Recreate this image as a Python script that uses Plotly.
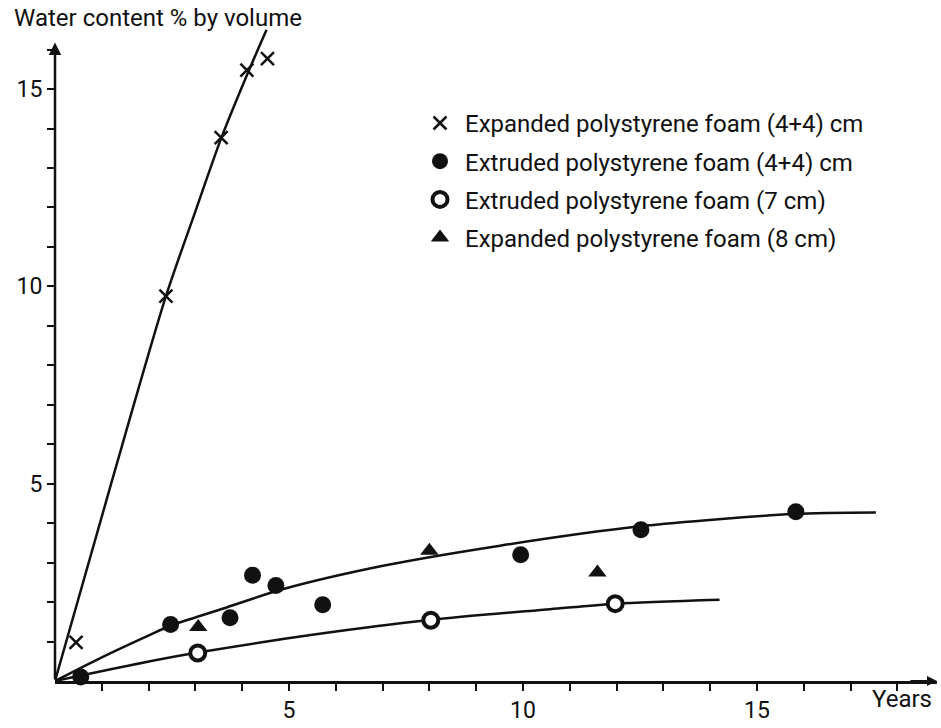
import plotly.graph_objects as go

# ---- data ----
exp44_x = [0.45, 2.37, 3.55, 4.10, 4.54]
exp44_y = [0.98, 9.75, 13.77, 15.48, 15.77]

ext44_x = [0.55, 2.47, 3.74, 4.22, 4.72, 5.72, 9.95, 12.52, 15.83]
ext44_y = [0.10, 1.43, 1.60, 2.68, 2.42, 1.93, 3.20, 3.83, 4.29]

ext7_x = [3.05, 8.03, 11.97]
ext7_y = [0.71, 1.54, 1.96]

exp8_x = [3.06, 8.00, 11.59]
exp8_y = [1.37, 3.30, 2.75]

# hand-drawn fitted curves
fit_exp44_x = [0, 1.2, 2.37, 3.0, 3.55, 4.1, 4.52]
fit_exp44_y = [0, 5.0, 9.75, 11.9, 13.75, 15.35, 16.5]

fit_ext44_x = [0, 1.0, 2.03, 2.47, 3.5, 4.88, 7.01, 9.51, 12.5, 15.77, 17.54]
fit_ext44_y = [0, 0.6, 1.17, 1.40, 1.80, 2.33, 2.92, 3.43, 3.92, 4.23, 4.27]

fit_ext7_x = [0, 2.03, 3.05, 5.5, 8.03, 10.58, 11.97, 14.2]
fit_ext7_y = [0, 0.50, 0.72, 1.17, 1.55, 1.82, 1.96, 2.06]

names = [
    "Expanded polystyrene foam (4+4) cm",
    "Extruded polystyrene foam (4+4) cm",
    "Extruded polystyrene foam (7 cm)",
    "Expanded polystyrene foam (8 cm)",
]

x_ticks = list(range(1, 19))
x_labels = {5: "5", 10: "10", 15: "15"}
y_ticks = list(range(1, 17))
y_labels = {5: "5", 10: "10", 15: "15"}
y_axis_top = 16.18

FONT = "Roboto, Liberation Sans Narrow, sans-serif"
INK = "#111111"

fig = go.Figure()

# fitted curves
for fx, fy in [(fit_exp44_x, fit_exp44_y), (fit_ext44_x, fit_ext44_y), (fit_ext7_x, fit_ext7_y)]:
    fig.add_trace(go.Scatter(x=fx, y=fy, mode="lines", line=dict(color=INK, width=2.5, shape="spline", smoothing=0.8),
                             showlegend=False, hoverinfo="skip"))

# measured points
fig.add_trace(go.Scatter(x=exp44_x, y=exp44_y, mode="markers", name=names[0], legendgroup="a",
                         marker=dict(symbol="x-thin", size=13, color=INK, line=dict(color=INK, width=2.5)),
                         cliponaxis=False))
fig.add_trace(go.Scatter(x=ext44_x, y=ext44_y, mode="markers", name=names[1], legendgroup="b",
                         marker=dict(symbol="circle", size=17, color=INK, line=dict(width=0)),
                         cliponaxis=False))
fig.add_trace(go.Scatter(x=ext7_x, y=ext7_y, mode="markers", name=names[2], legendgroup="c",
                         marker=dict(symbol="circle", size=15, color="white", line=dict(color=INK, width=4)),
                         cliponaxis=False))
fig.add_trace(go.Scatter(x=exp8_x, y=exp8_y, mode="markers", name=names[3], legendgroup="d",
                         marker=dict(symbol="triangle-up", size=16, color=INK, line=dict(width=0)),
                         cliponaxis=False))

W, H = 941, 728
ML, MB, MR, MT = 55, 38, 4, 20
pw, ph = W - ML - MR, H - MT - MB
xmax = pw / 46.8
ymax = ph / 40.0

def px(xp):
    return (xp - ML) / pw

def py(yp):
    return (H - MB - yp) / ph

fig.update_layout(
    width=W, height=H,
    margin=dict(l=ML, r=MR, t=MT, b=MB, pad=0),
    paper_bgcolor="white", plot_bgcolor="white",
    font=dict(family=FONT, size=23, color=INK),
    xaxis=dict(range=[0, xmax], showgrid=False, zeroline=False, showline=True, linecolor=INK, linewidth=2.5,
               ticks="outside", ticklen=7, tickwidth=2, tickcolor=INK,
               tickvals=x_ticks, ticktext=[x_labels.get(v, "") for v in x_ticks],
               tickfont=dict(family=FONT, size=23, color=INK)),
    yaxis=dict(range=[0, ymax], showgrid=False, zeroline=False, showline=False,
               ticks="outside", ticklen=7, tickwidth=2, tickcolor=INK,
               tickvals=y_ticks, ticktext=[y_labels.get(v, "") for v in y_ticks],
               tickfont=dict(family=FONT, size=23, color=INK)),
    legend=dict(x=px(415), y=py(102), xanchor="left", yanchor="top",
                bgcolor="rgba(0,0,0,0)", font=dict(family=FONT, size=24, color=INK),
                itemsizing="trace", itemwidth=40, tracegroupgap=4),
    showlegend=True,
)

fig.add_annotation(text="Water content % by volume", xref="paper", yref="paper",
                   x=px(12), y=py(18), xanchor="left", yanchor="middle", showarrow=False,
                   font=dict(family=FONT, size=24, color=INK))
fig.add_annotation(text="Years", xref="paper", yref="paper",
                   x=px(902), y=py(708), xanchor="center", yanchor="middle", showarrow=False,
                   font=dict(family=FONT, size=24, color=INK))

# axis arrowheads (x) and the y axis drawn as an arrow
fig.add_annotation(x=xmax, y=0, ax=xmax - 0.6, ay=0, xref="x", yref="y", axref="x", ayref="y",
                   showarrow=True, arrowhead=2, arrowsize=1, arrowwidth=2, arrowcolor=INK, text="")
fig.add_annotation(x=0, y=y_axis_top, ax=0, ay=0, xref="x", yref="y", axref="x", ayref="y",
                   showarrow=True, arrowhead=2, arrowsize=1, arrowwidth=2.5, arrowcolor=INK, text="")

fig.write_html("out.html")
